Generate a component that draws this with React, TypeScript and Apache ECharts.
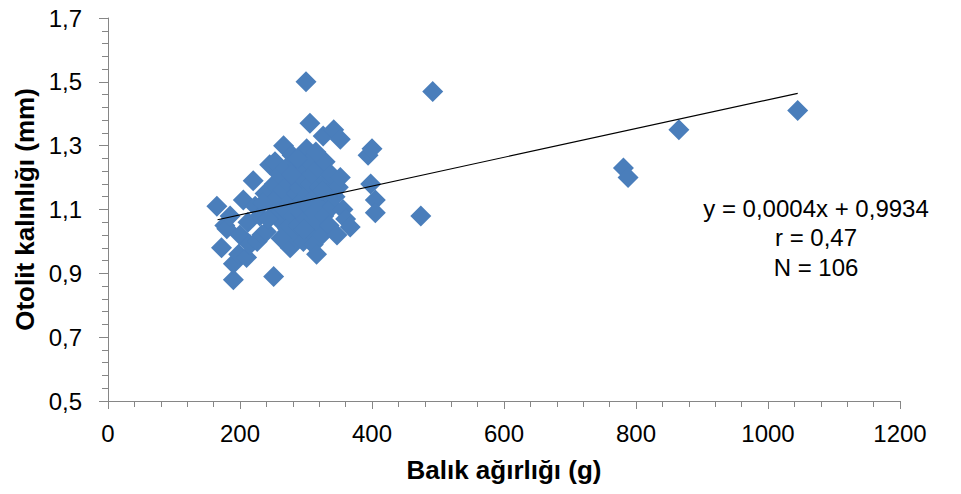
import React, { useEffect, useRef } from "react";
import * as echarts from "echarts";

// Fish weight (g) and otolith thickness (mm)
const weights = [
  165, 172, 177, 180, 185, 190, 190, 198, 200, 205,
  210, 212, 215, 220, 223, 226, 230, 233, 238, 240,
  245, 248, 251, 252, 253, 255, 258, 260, 263, 265,
  266, 268, 270, 272, 274, 276, 277, 279, 280, 282,
  283, 285, 286, 288, 289, 290, 292, 293, 295, 296,
  298, 300, 300, 301, 302, 304, 305, 306, 307, 308,
  310, 311, 312, 314, 316, 317, 318, 320, 322, 324,
  326, 327, 329, 331, 333, 335, 338, 340, 342, 344,
  347, 349, 352, 352, 356, 360, 367, 394, 398, 400,
  405, 405, 474, 492, 781, 788, 865, 1045, 235, 262,
  287, 297, 315, 243, 278, 325,
];
const thickness = [
  1.11, 0.98, 1.05, 1.04, 1.08, 0.88, 0.93, 0.96, 1.02, 1.13,
  0.95, 1.06, 0.99, 1.19, 1.11, 1.0, 1.08, 1.02, 1.15, 1.03,
  1.24, 1.12, 0.89, 1.18, 1.25, 1.08, 1.14, 1.21, 1.06, 1.16,
  1.3, 1.1, 1.23, 1.04, 1.18, 0.98, 1.13, 1.27, 1.08, 1.2,
  1.015, 1.15, 1.11, 1.24, 1.05, 1.17, 1.09, 1.22, 1.13, 1.0,
  1.19, 1.5, 1.07, 1.29, 1.15, 1.11, 1.25, 1.37, 1.03, 1.18,
  1.21, 0.99, 1.09, 1.14, 0.96, 1.06, 1.23, 1.17, 1.12, 1.02,
  1.33, 1.08, 1.25, 1.19, 1.15, 1.05, 1.21, 1.11, 1.35, 1.14,
  1.02, 1.17, 1.32, 1.2, 1.1, 1.07, 1.045, 1.27, 1.18, 1.29,
  1.13, 1.09, 1.08, 1.47, 1.23, 1.2, 1.35, 1.41, 1.12, 1.01,
  1.26, 1.04, 1.28, 1.07, 1.21, 1.16,
];

// Trend line end points
const trendX = [166, 1045];
const trendY = [1.068, 1.464];

const annotationLines = ["y = 0,0004x + 0,9934", "r = 0,47", "N = 106"];

const xAxisTitle = "Balık ağırlığı (g)";
const yAxisTitle = "Otolit kalınlığı (mm)";

const FONT = "'Liberation Sans', Arial, sans-serif";
const AXIS_COLOR = "#868686";

export default function App() {
  const ref = useRef<HTMLDivElement>(null);

  useEffect(() => {
    const chart = echarts.init(ref.current!, null, { renderer: "svg" });
    const points = weights.map((w, i) => [w, thickness[i]]);
    const trend = trendX.map((x, i) => [x, trendY[i]]);

    chart.setOption({
      animation: false,
      backgroundColor: "#ffffff",
      textStyle: { fontFamily: FONT },
      grid: {
        left: 108,
        right: 61,
        top: 18,
        bottom: 93,
        containLabel: false,
        outerBoundsMode: "none",
      },
      xAxis: {
        type: "value",
        min: 0,
        max: 1200,
        interval: 200,
        name: xAxisTitle,
        nameLocation: "middle",
        nameGap: 56,
        nameTextStyle: {
          fontFamily: FONT,
          fontSize: 26,
          fontWeight: "bold",
          color: "#000",
        },
        axisLine: { show: true, lineStyle: { color: AXIS_COLOR, width: 1 } },
        axisTick: { show: true, length: 8, lineStyle: { color: AXIS_COLOR } },
        minorTick: { show: true, splitNumber: 5, length: 6, lineStyle: { color: AXIS_COLOR } },
        splitLine: { show: false },
        axisLabel: {
          fontFamily: FONT,
          fontSize: 24,
          color: "#000",
          margin: 20,
          formatter: (v: number) => String(v),
        },
      },
      yAxis: {
        type: "value",
        min: 0.5,
        max: 1.7,
        interval: 0.2,
        name: yAxisTitle,
        nameLocation: "middle",
        nameRotate: 90,
        nameGap: 70,
        nameTextStyle: {
          fontFamily: FONT,
          fontSize: 26,
          fontWeight: "bold",
          color: "#000",
        },
        axisLine: { show: true, lineStyle: { color: AXIS_COLOR, width: 1 } },
        axisTick: { show: true, length: 9, lineStyle: { color: AXIS_COLOR } },
        minorTick: { show: true, splitNumber: 5, length: 6, lineStyle: { color: AXIS_COLOR } },
        splitLine: { show: false },
        axisLabel: {
          fontFamily: FONT,
          fontSize: 24,
          color: "#000",
          margin: 26,
          formatter: (v: number) => v.toFixed(1).replace(".", ","),
        },
      },
      series: [
        {
          type: "scatter",
          data: points,
          symbol: "diamond",
          symbolSize: 21,
          itemStyle: { color: "#4A7EBB", opacity: 1 },
          z: 2,
        },
        {
          type: "line",
          data: trend,
          showSymbol: false,
          symbol: "none",
          lineStyle: { color: "#000", width: 1.2 },
          z: 3,
          silent: true,
        },
      ],
      graphic: annotationLines.map((t, i) => ({
        type: "text",
        x: 816,
        y: 208 + i * 29.5,
        style: {
          text: t,
          fontFamily: FONT,
          fontSize: 24,
          fill: "#000",
          textAlign: "center",
          textVerticalAlign: "middle",
        },
      })),
    });

    return () => chart.dispose();
  }, []);

  return (
    <div
      ref={ref}
      style={{ position: "absolute", left: 0, top: 0, width: 961, height: 494 }}
    />
  );
}
